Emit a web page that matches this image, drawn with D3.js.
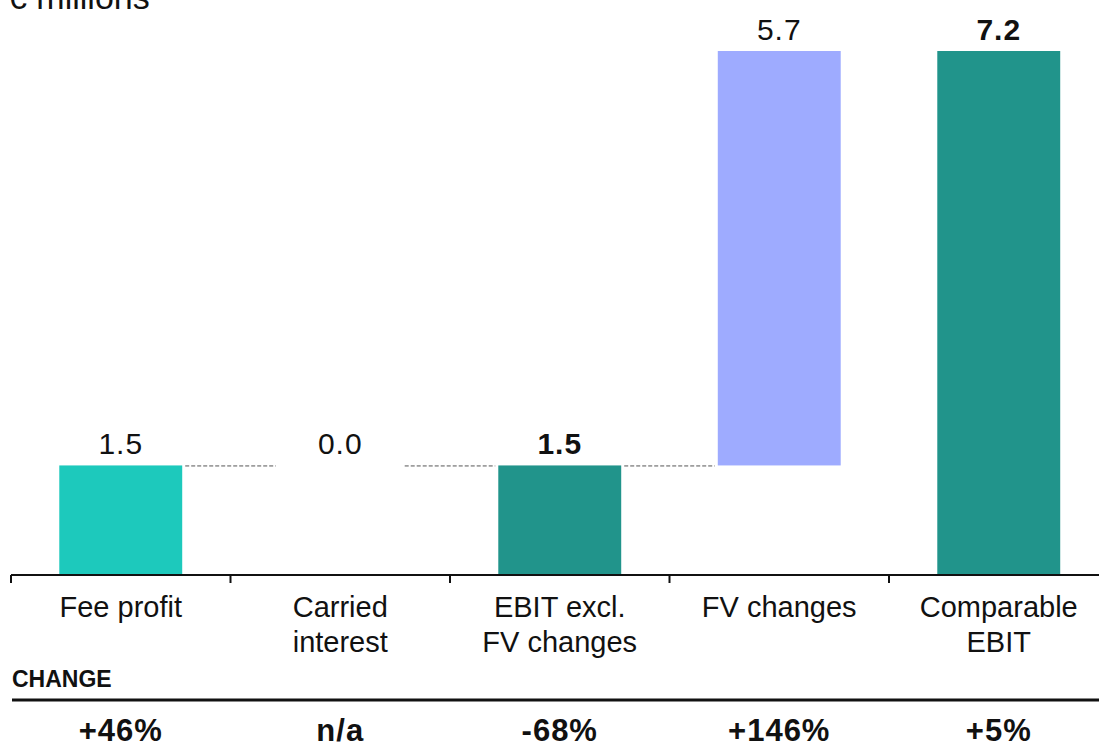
<!DOCTYPE html>
<html>
<head>
<meta charset="utf-8">
<script src="https://cdn.jsdelivr.net/npm/d3@7"></script>
<style>
    body { margin: 0; background: #fff; }
    svg { display: block; font-family: "Liberation Sans", Arial, sans-serif; }
</style>
</head>
<body>
<svg id="chart" width="1099" height="747"></svg>
<script>
// waterfall data
const categories = [["Fee profit"], ["Carried", "interest"], ["EBIT excl.", "FV changes"], ["FV changes"], ["Comparable", "EBIT"]];
const deltas = [1.5, 0.0, null, 5.7, null];   // null = subtotal
const labels = ["1.5", "0.0", "1.5", "5.7", "7.2"];
const changes = ["+46%", "n/a", "-68%", "+146%", "+5%"];
const kinds = ["inc", "inc", "total", "inc2", "total"];

const width = 1099, height = 747;
const svg = d3.select("#chart");

const color = {"inc": "#1DC9BC", "inc2": "#9EABFF", "total": "#21948B"};

// running totals -> start/end per step
let run = 0;
const steps = categories.map((c, i) => {
    let start, end;
    if (deltas[i] === null) { start = 0; end = run; }
    else { start = run; end = run + deltas[i]; run = end; }
    return {i, name: c, start, end, label: labels[i], change: changes[i], kind: kinds[i]};
});

const idx = d3.range(categories.length);
const band = d3.scaleBand().domain(idx).range([11, 1108.5]);
const x = d3.scaleBand().domain(idx).range([11, 1108.5]).paddingInner(0.44).paddingOuter(0.22);
const y = d3.scaleLinear().domain([0, 7.2]).range([574.5, 51]);

// unit label
svg.append("text").attr("x", 8).attr("y", 9)
    .style("font-size", "34px").attr("fill", "#111").text("€ millions");

// connectors (none into the final total)
steps.slice(0, -2).forEach((d, i) => {
    svg.append("line")
        .attr("x1", x(i) + x.bandwidth() + 3).attr("x2", x(i + 1) - 3)
        .attr("y1", y(d.end) + 0.5).attr("y2", y(d.end) + 0.5)
        .attr("stroke", "#555").attr("stroke-width", 1)
        .attr("stroke-dasharray", "4,2");
});

// bars
svg.append("g").selectAll("rect")
    .data(steps.filter(d => d.end !== d.start))
    .join("rect")
    .attr("x", d => x(d.i))
    .attr("width", x.bandwidth())
    .attr("y", d => y(Math.max(d.start, d.end)))
    .attr("height", d => Math.abs(y(d.start) - y(d.end)))
    .attr("fill", d => color[d.kind]);

// value labels
svg.append("g").selectAll("text")
    .data(steps)
    .join("text")
    .attr("x", d => x(d.i) + x.bandwidth() / 2)
    .attr("y", d => y(Math.max(d.start, d.end)) - 11)
    .attr("text-anchor", "middle")
    .style("font-size", "30px")
    .style("letter-spacing", "1px")
    .style("font-weight", d => d.kind === "total" ? "bold" : "normal")
    .attr("fill", "#111")
    .text(d => d.label);

// axis
const axis = svg.append("g");
axis.append("line").attr("x1", 11).attr("x2", width)
    .attr("y1", 575).attr("y2", 575).attr("stroke", "#111").attr("stroke-width", 2);
axis.selectAll("line.tick")
    .data(idx)
    .join("line").attr("class", "tick")
    .attr("x1", d => band(d)).attr("x2", d => band(d))
    .attr("y1", 575).attr("y2", 583)
    .attr("stroke", "#111").attr("stroke-width", 2);

// category labels
svg.append("g").selectAll("text")
    .data(steps)
    .join("text")
    .attr("x", d => band(d.i) + band.bandwidth() / 2)
    .attr("y", 617)
    .attr("text-anchor", "middle")
    .style("font-size", "29px")
    .attr("fill", "#111")
    .selectAll("tspan")
    .data(d => d.name.map(n => ({n, cx: band(d.i) + band.bandwidth() / 2})))
    .join("tspan")
    .attr("x", t => t.cx)
    .attr("dy", (t, j) => j === 0 ? 0 : 35)
    .text(t => t.n);

// change row
svg.append("text").attr("x", 12).attr("y", 687)
    .style("font-size", "23px").style("font-weight", "bold")
    .attr("fill", "#111").text("CHANGE");
svg.append("line").attr("x1", 12).attr("x2", width)
    .attr("y1", 700).attr("y2", 700).attr("stroke", "#111").attr("stroke-width", 3);

svg.append("g").selectAll("text")
    .data(steps)
    .join("text")
    .attr("x", d => band(d.i) + band.bandwidth() / 2)
    .attr("y", 741)
    .attr("text-anchor", "middle")
    .style("font-size", "31px")
    .style("font-weight", "bold")
    .style("letter-spacing", "1px")
    .attr("fill", "#111")
    .text(d => d.change);
</script>
</body>
</html>
